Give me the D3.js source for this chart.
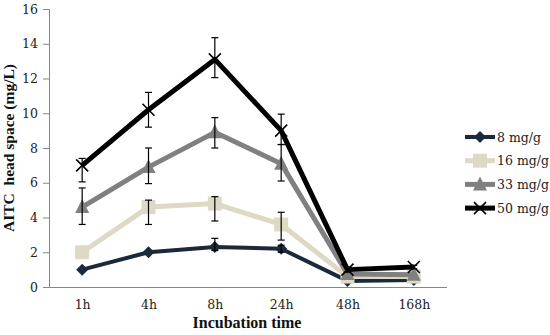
<!DOCTYPE html>
<html><head><meta charset="utf-8">
<script src="https://cdn.jsdelivr.net/npm/d3@7/dist/d3.min.js"></script>
<style>body{margin:0;background:#fff}svg{display:block}</style>
</head><body><svg id="c" width="550" height="335"></svg>
<script>
const categories = ["1h","4h","8h","24h","48h","168h"];
const seriesNames = ["8 mg/g","16 mg/g","33 mg/g","50 mg/g"];
const vals8  = [1.0, 2.0, 2.3, 2.2, 0.35, 0.4];
const vals16 = [2.0, 4.6, 4.8, 3.6, 0.6, 0.6];
const vals33 = [4.6, 6.9, 8.9, 7.1, 0.75, 0.7];
const vals50 = [7.0, 10.2, 13.1, 9.0, 1.0, 1.15];
const up8  = [0, 0, 0.5, 0.2, 0, 0];
const dn8  = [0, 0, 0.2, 0.2, 0, 0];
const up16 = [0, 0.4, 0.4, 0.7, 0, 0];
const dn16 = [0, 1.0, 1.0, 0.9, 0, 0];
const up33 = [1.1, 1.1, 0.85, 1.1, 0, 0];
const dn33 = [1.0, 0.95, 0.9, 1.0, 0, 0];
const up50 = [0.4, 1.0, 1.25, 0.95, 0.15, 0.1];
const dn50 = [0.95, 1.0, 1.05, 0.8, 0.15, 0.1];
const yTicks = [0,2,4,6,8,10,12,14,16];

const series = [
  {name: seriesNames[0], v: vals8,  up: up8,  dn: dn8,  color: "#1b2a3b", w: 4, marker: "diamond"},
  {name: seriesNames[1], v: vals16, up: up16, dn: dn16, color: "#ddd9c4", w: 5, marker: "square"},
  {name: seriesNames[2], v: vals33, up: up33, dn: dn33, color: "#808080", w: 5, marker: "triangle"},
  {name: seriesNames[3], v: vals50, up: up50, dn: dn50, color: "#000000", w: 5, marker: "x"}
];

const svg = d3.select("#c");
const x = d3.scalePoint().domain(categories).range([49, 447]).padding(0.5);
const y = d3.scaleLinear().domain([0, 16]).range([287, 9]);

const yAxis = svg.append("g").attr("transform","translate(49,0)")
  .call(d3.axisLeft(y).tickValues(yTicks).tickSize(6).tickPadding(5));
yAxis.select(".domain").attr("stroke","#868686");
yAxis.selectAll(".tick line").attr("stroke","#868686");
yAxis.selectAll("text").attr("font-family","DejaVu Serif").attr("font-size","12.5px").attr("fill","#222");

const xAxis = svg.append("g").attr("transform","translate(0,287)")
  .call(d3.axisBottom(x).tickSize(0).tickPadding(13));
xAxis.select(".domain").attr("stroke","#868686").attr("d","M49.5,0.5H447");
xAxis.selectAll("text").attr("font-family","DejaVu Serif").attr("font-size","12.5px").attr("fill","#222");

svg.append("text").attr("x", 247).attr("y", 328).attr("text-anchor","middle")
  .attr("font-family","Liberation Serif").attr("font-weight","bold").attr("font-size","16px")
  .attr("fill","#111").text("Incubation time");
svg.append("text").attr("transform","translate(14,148) rotate(-90)").attr("text-anchor","middle")
  .attr("font-family","Liberation Serif").attr("font-weight","bold").attr("font-size","15.5px")
  .attr("fill","#111").style("white-space","pre").text("AITC  head space (mg/L)");

const line = d3.line().x((d,i)=>x(categories[i])).y(d=>y(d));

function drawMarker(g, type, cx, cy, color){
  if(type==="diamond"){
    g.append("path").attr("d", `M${cx},${cy-6}L${cx+6},${cy}L${cx},${cy+6}L${cx-6},${cy}Z`).attr("fill", color);
  } else if(type==="square"){
    g.append("rect").attr("x", cx-7).attr("y", cy-7).attr("width",14).attr("height",14).attr("fill", color);
  } else if(type==="triangle"){
    g.append("path").attr("d", `M${cx},${cy-8}L${cx+7},${cy+6}L${cx-7},${cy+6}Z`).attr("fill", color);
  } else {
    g.append("path").attr("d", `M${cx-6},${cy-6}L${cx+6},${cy+6}M${cx+6},${cy-6}L${cx-6},${cy+6}`)
      .attr("stroke", color).attr("stroke-width",1.6).attr("fill","none");
  }
}

series.forEach(s => {
  const g = svg.append("g");
  g.append("path").datum(s.v).attr("d", line).attr("fill","none")
    .attr("stroke", s.color).attr("stroke-width", s.w).attr("stroke-linejoin","round");
  s.v.forEach((v,i) => drawMarker(g, s.marker, x(categories[i]), y(v), s.color));
});

const eg = svg.append("g").attr("stroke","#000").attr("stroke-width",1.2);
series.forEach(s => {
  s.v.forEach((v,i) => {
    if (s.up[i] === 0 && s.dn[i] === 0) return;
    const cx = x(categories[i]);
    const y1 = y(v + s.up[i]), y2 = y(v - s.dn[i]);
    eg.append("line").attr("x1",cx).attr("x2",cx).attr("y1",y1).attr("y2",y2);
    eg.append("line").attr("x1",cx-3.5).attr("x2",cx+3.5).attr("y1",y1).attr("y2",y1);
    eg.append("line").attr("x1",cx-3.5).attr("x2",cx+3.5).attr("y1",y2).attr("y2",y2);
  });
});

const lg = svg.append("g");
series.forEach((s,i) => {
  const ly = 137 + i*23.7;
  lg.append("line").attr("x1",465).attr("x2",495).attr("y1",ly).attr("y2",ly)
    .attr("stroke", s.color).attr("stroke-width", s.w);
  drawMarker(lg, s.marker, 480, ly, s.color);
  lg.append("text").attr("x",497).attr("y",ly+4.5).attr("font-family","DejaVu Serif")
    .attr("font-size","12.5px").attr("fill","#222").text(s.name);
});
</script></body></html>
